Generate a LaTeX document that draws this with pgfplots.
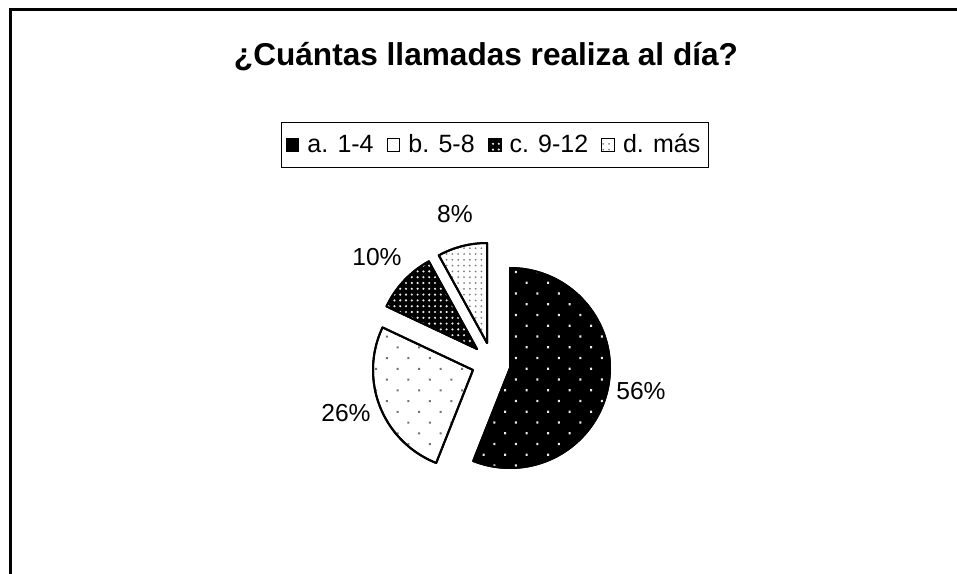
\documentclass[border=0pt]{standalone}
\usepackage{fontspec}
\setmainfont{Liberation Sans}
\usepackage{pgfplots}
\pgfplotsset{compat=1.18}
\usetikzlibrary{patterns.meta}

% shares (percent); each slice is pulled out to its own vertex (pixels)
\def\va{56}\def\vb{26}\def\vc{10}\def\vd{8}
\def\rad{100}

\tikzset{
  slice/.style={draw=black, line width=1pt, line join=round},
  sa/.style={slice, fill=black, postaction={pattern={Dots[distance=7.6pt, angle=45, radius=0.75pt]}, pattern color=white!85!gray}},
  sb/.style={slice, fill=white, postaction={pattern={Dots[distance=7.6pt, angle=45, radius=0.7pt]}, pattern color=black!55}},
  sc/.style={slice, fill=black, postaction={pattern={Dots[distance=2.9pt, radius=0.6pt]}, pattern color=white!85!gray}},
  sd/.style={slice, fill=white, postaction={pattern={Dots[distance=2.9pt, radius=0.5pt]}, pattern color=black!50}},
}

\begin{document}
\begin{tikzpicture}
\begin{axis}[
  width=478.5pt, height=286.5pt, scale only axis,
  xmin=0, xmax=957, ymin=0, ymax=573, y dir=reverse,
  hide axis, clip=false,
  legend columns=4,
  legend style={at={(axis cs:495,145)}, anchor=center, draw=black, line width=0.75pt,
    font=\fontsize{12.5}{14}\selectfont, inner xsep=2pt, inner ysep=4pt,
    /tikz/every odd column/.append style={column sep=2pt},
    /tikz/every even column/.append style={column sep=4.5pt}},
  legend image code/.code={\draw[#1, line width=0.5pt] (0pt,-3.2pt) rectangle (6.4pt,3.2pt);},
]
% a. 1-4 : 56 %
\addplot[sa, domain={90-3.6*\va}:90, samples=90, variable=\t]
  ({510+\rad*cos(\t)}, {368-\rad*sin(\t)}) -- (axis cs:510,368) -- cycle;
\addlegendentry{a. 1-4}
% b. 5-8 : 26 %
\addplot[sb, domain={90-3.6*(\va+\vb)}:{90-3.6*\va}, samples=50, variable=\t]
  ({473+\rad*cos(\t)}, {370-\rad*sin(\t)}) -- (axis cs:473,370) -- cycle;
\addlegendentry{b. 5-8}
% c. 9-12 : 10 %
\addplot[sc, domain={90-3.6*(\va+\vb+\vc)}:{90-3.6*(\va+\vb)}, samples=25, variable=\t]
  ({477+\rad*cos(\t)}, {349-\rad*sin(\t)}) -- (axis cs:477,349) -- cycle;
\addlegendentry{c. 9-12}
% d. más : 8 %
\addplot[sd, domain={90-3.6*(\va+\vb+\vc+\vd)}:{90-3.6*(\va+\vb+\vc)}, samples=20, variable=\t]
  ({487+\rad*cos(\t)}, {343-\rad*sin(\t)}) -- (axis cs:487,343) -- cycle;
\addlegendentry{d. más}

\node[font=\fontsize{12.3}{14}\selectfont] at (axis cs:641,391) {56\%};
\node[font=\fontsize{12.3}{14}\selectfont] at (axis cs:346,413) {26\%};
\node[font=\fontsize{12.3}{14}\selectfont] at (axis cs:377,257) {10\%};
\node[font=\fontsize{12.3}{14}\selectfont] at (axis cs:455,214) {8\%};

\node[font=\bfseries\fontsize{15.8}{18}\selectfont] at (axis cs:486,57) {¿Cuántas llamadas realiza al día?};

\draw[line width=1.5pt] (axis cs:10,640) -- (axis cs:10,9) -- (axis cs:1000,9);

\coordinate (bl) at (axis cs:0,573);
\coordinate (tr) at (axis cs:957,0);
\end{axis}
\pgfresetboundingbox
\path[use as bounding box] (bl) rectangle (tr);
\end{tikzpicture}
\end{document}
